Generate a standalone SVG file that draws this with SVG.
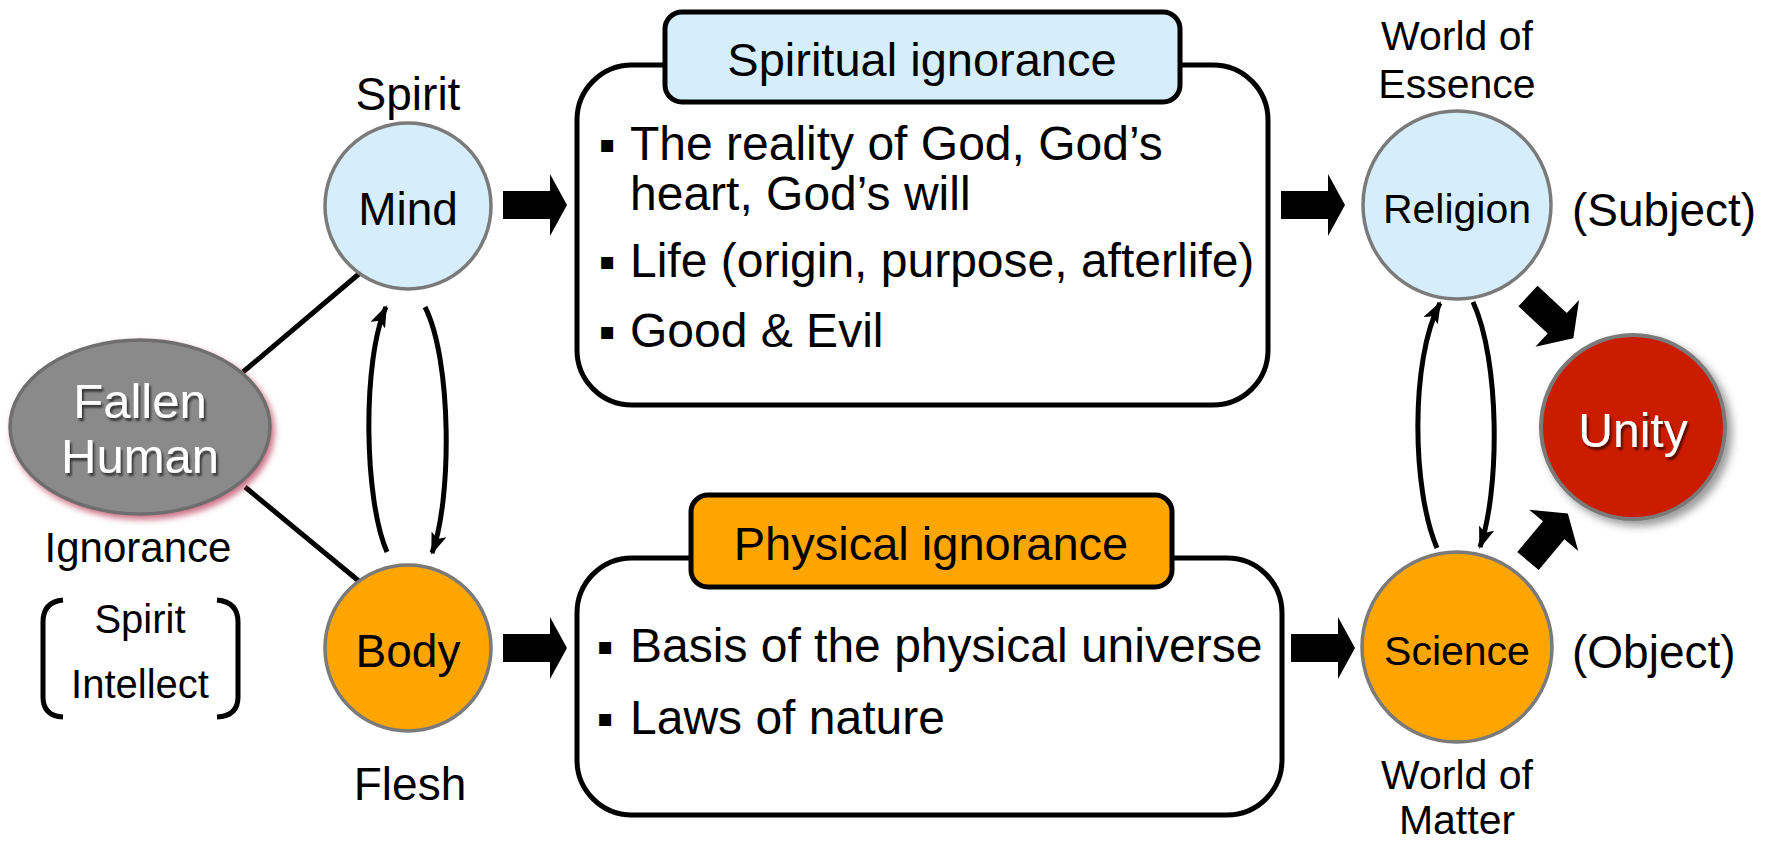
<svg xmlns="http://www.w3.org/2000/svg" xmlns:xlink="http://www.w3.org/1999/xlink" width="1775" height="843" viewBox="0 0 1775 843">
<style>
text{font-family:"Liberation Sans",Arial,sans-serif;fill:#000}
.c{text-anchor:middle}
.lbl{font-size:46px}
.sm{font-size:41px}
.item{font-size:48px}
.bul{font-family:"DejaVu Sans",sans-serif;font-size:24px}
.circ{stroke:#7a7a7a;stroke-width:3.5}
.blue{fill:#d6eefb}
.orange{fill:#ffa500}
.box{fill:#fff;stroke:#000;stroke-width:5}
.line{stroke:#000;stroke-width:5;fill:none}
.wt{fill:#fff}
</style>
<defs>
<marker id="ah" markerWidth="22" markerHeight="16" refX="20" refY="8" orient="auto" markerUnits="userSpaceOnUse"><path d="M0,0 L22,8 L0,16 L5,8 z" fill="#000"/></marker>
<polygon id="barrow" points="0,-14 47,-14 47,-31 64,0 47,31 47,14 0,14" fill="#000"/>
<polygon id="darrow" points="0,-14 40,-14 40,-32 62,0 40,32 40,14 0,14" fill="#000"/>
<filter id="pink" x="-20%" y="-20%" width="140%" height="140%"><feDropShadow dx="3" dy="4" stdDeviation="3" flood-color="#c0506a" flood-opacity="0.8"/></filter>
<filter id="gsh" x="-20%" y="-20%" width="140%" height="140%"><feDropShadow dx="5" dy="5" stdDeviation="4" flood-color="#000" flood-opacity="0.4"/></filter>
<filter id="tsh" x="-10%" y="-10%" width="120%" height="130%"><feDropShadow dx="2" dy="3" stdDeviation="1.2" flood-color="#000" flood-opacity="0.6"/></filter>
</defs>

<g id="connectors">
<line class="line" x1="243" y1="372" x2="360" y2="273"/>
<line class="line" x1="245" y1="487" x2="360" y2="582"/>
<path class="line" d="M387,552 C364,500 362,360 386,307" marker-end="url(#ah)"/>
<path class="line" d="M425,307 C452,360 452,500 432,553" marker-end="url(#ah)"/>
<path class="line" d="M1437,548 C1412,490 1410,360 1440,303" marker-end="url(#ah)"/>
<path class="line" d="M1473,302 C1500,360 1500,490 1480,547" marker-end="url(#ah)"/>
<use xlink:href="#barrow" transform="translate(503,205)"/>
<use xlink:href="#barrow" transform="translate(503,648)"/>
<use xlink:href="#barrow" transform="translate(1281,205)"/>
<use xlink:href="#barrow" transform="translate(1291,648)"/>
<use xlink:href="#darrow" transform="translate(1528,296) rotate(43)"/>
<use xlink:href="#darrow" transform="translate(1528,561) rotate(-50)"/>
</g>

<g id="fallen">
<ellipse cx="140" cy="427" rx="130" ry="87" fill="#8a8a8a" stroke="#6e6e6e" stroke-width="3.5" filter="url(#pink)"/>
<g filter="url(#tsh)">
<text class="c wt" x="140" y="418" font-size="49">Fallen</text>
<text class="c wt" x="140" y="473" font-size="49">Human</text>
</g>
<text class="c" x="138" y="562" font-size="42">Ignorance</text>
<path class="line" d="M63,600 Q43,602 43,622 L43,697 Q43,716 63,717"/>
<path class="line" d="M217,600 Q238,602 238,622 L238,697 Q238,716 217,717"/>
<text class="c" x="140" y="633" font-size="40">Spirit</text>
<text class="c" x="140" y="698" font-size="40">Intellect</text>
</g>

<g id="mind">
<text class="c lbl" x="408" y="110">Spirit</text>
<circle class="circ blue" cx="408" cy="206" r="83"/>
<text class="c lbl" x="408" y="225">Mind</text>
</g>

<g id="body">
<circle class="circ orange" cx="408" cy="648" r="83"/>
<text class="c lbl" x="408" y="667">Body</text>
<text class="c lbl" x="410" y="800">Flesh</text>
</g>

<g id="spiritual">
<rect class="box" x="577" y="65" width="691" height="340" rx="55"/>
<rect x="665" y="12" width="515" height="90" rx="17" fill="#d6eefb" stroke="#000" stroke-width="5"/>
<text class="c" x="922" y="76" font-size="47">Spiritual ignorance</text>
<text class="bul" x="599" y="152">▪</text>
<text class="item" x="630" y="160">The reality of God, God’s</text>
<text class="item" x="630" y="210">heart, God’s will</text>
<text class="bul" x="599" y="269">▪</text>
<text class="item" x="630" y="277">Life (origin, purpose, afterlife)</text>
<text class="bul" x="599" y="339">▪</text>
<text class="item" x="630" y="347">Good &amp; Evil</text>
</g>

<g id="physical">
<rect class="box" x="577" y="558" width="705" height="257" rx="55"/>
<rect x="691" y="495" width="481" height="92" rx="17" fill="#ffa500" stroke="#000" stroke-width="5"/>
<text class="c" x="931" y="560" font-size="47">Physical ignorance</text>
<text class="bul" x="597" y="654">▪</text>
<text class="item" x="630" y="662">Basis of the physical universe</text>
<text class="bul" x="597" y="726">▪</text>
<text class="item" x="630" y="734">Laws of nature</text>
</g>

<g id="religion">
<text class="c sm" x="1457" y="50">World of</text>
<text class="c sm" x="1457" y="98">Essence</text>
<circle class="circ blue" cx="1457" cy="205" r="94"/>
<text class="c sm" x="1457" y="223">Religion</text>
<text class="lbl" x="1572" y="226">(Subject)</text>
</g>

<g id="science">
<circle class="circ orange" cx="1457" cy="647" r="95"/>
<text class="c sm" x="1457" y="665">Science</text>
<text class="lbl" x="1572" y="668">(Object)</text>
<text class="c sm" x="1457" y="789">World of</text>
<text class="c sm" x="1457" y="834">Matter</text>
</g>

<g id="unity">
<circle cx="1633" cy="427" r="92" fill="#cc1c00" stroke="#7a7a7a" stroke-width="4" filter="url(#gsh)"/>
<text class="c wt" x="1633" y="447" font-size="48" filter="url(#tsh)">Unity</text>
</g>
</svg>
